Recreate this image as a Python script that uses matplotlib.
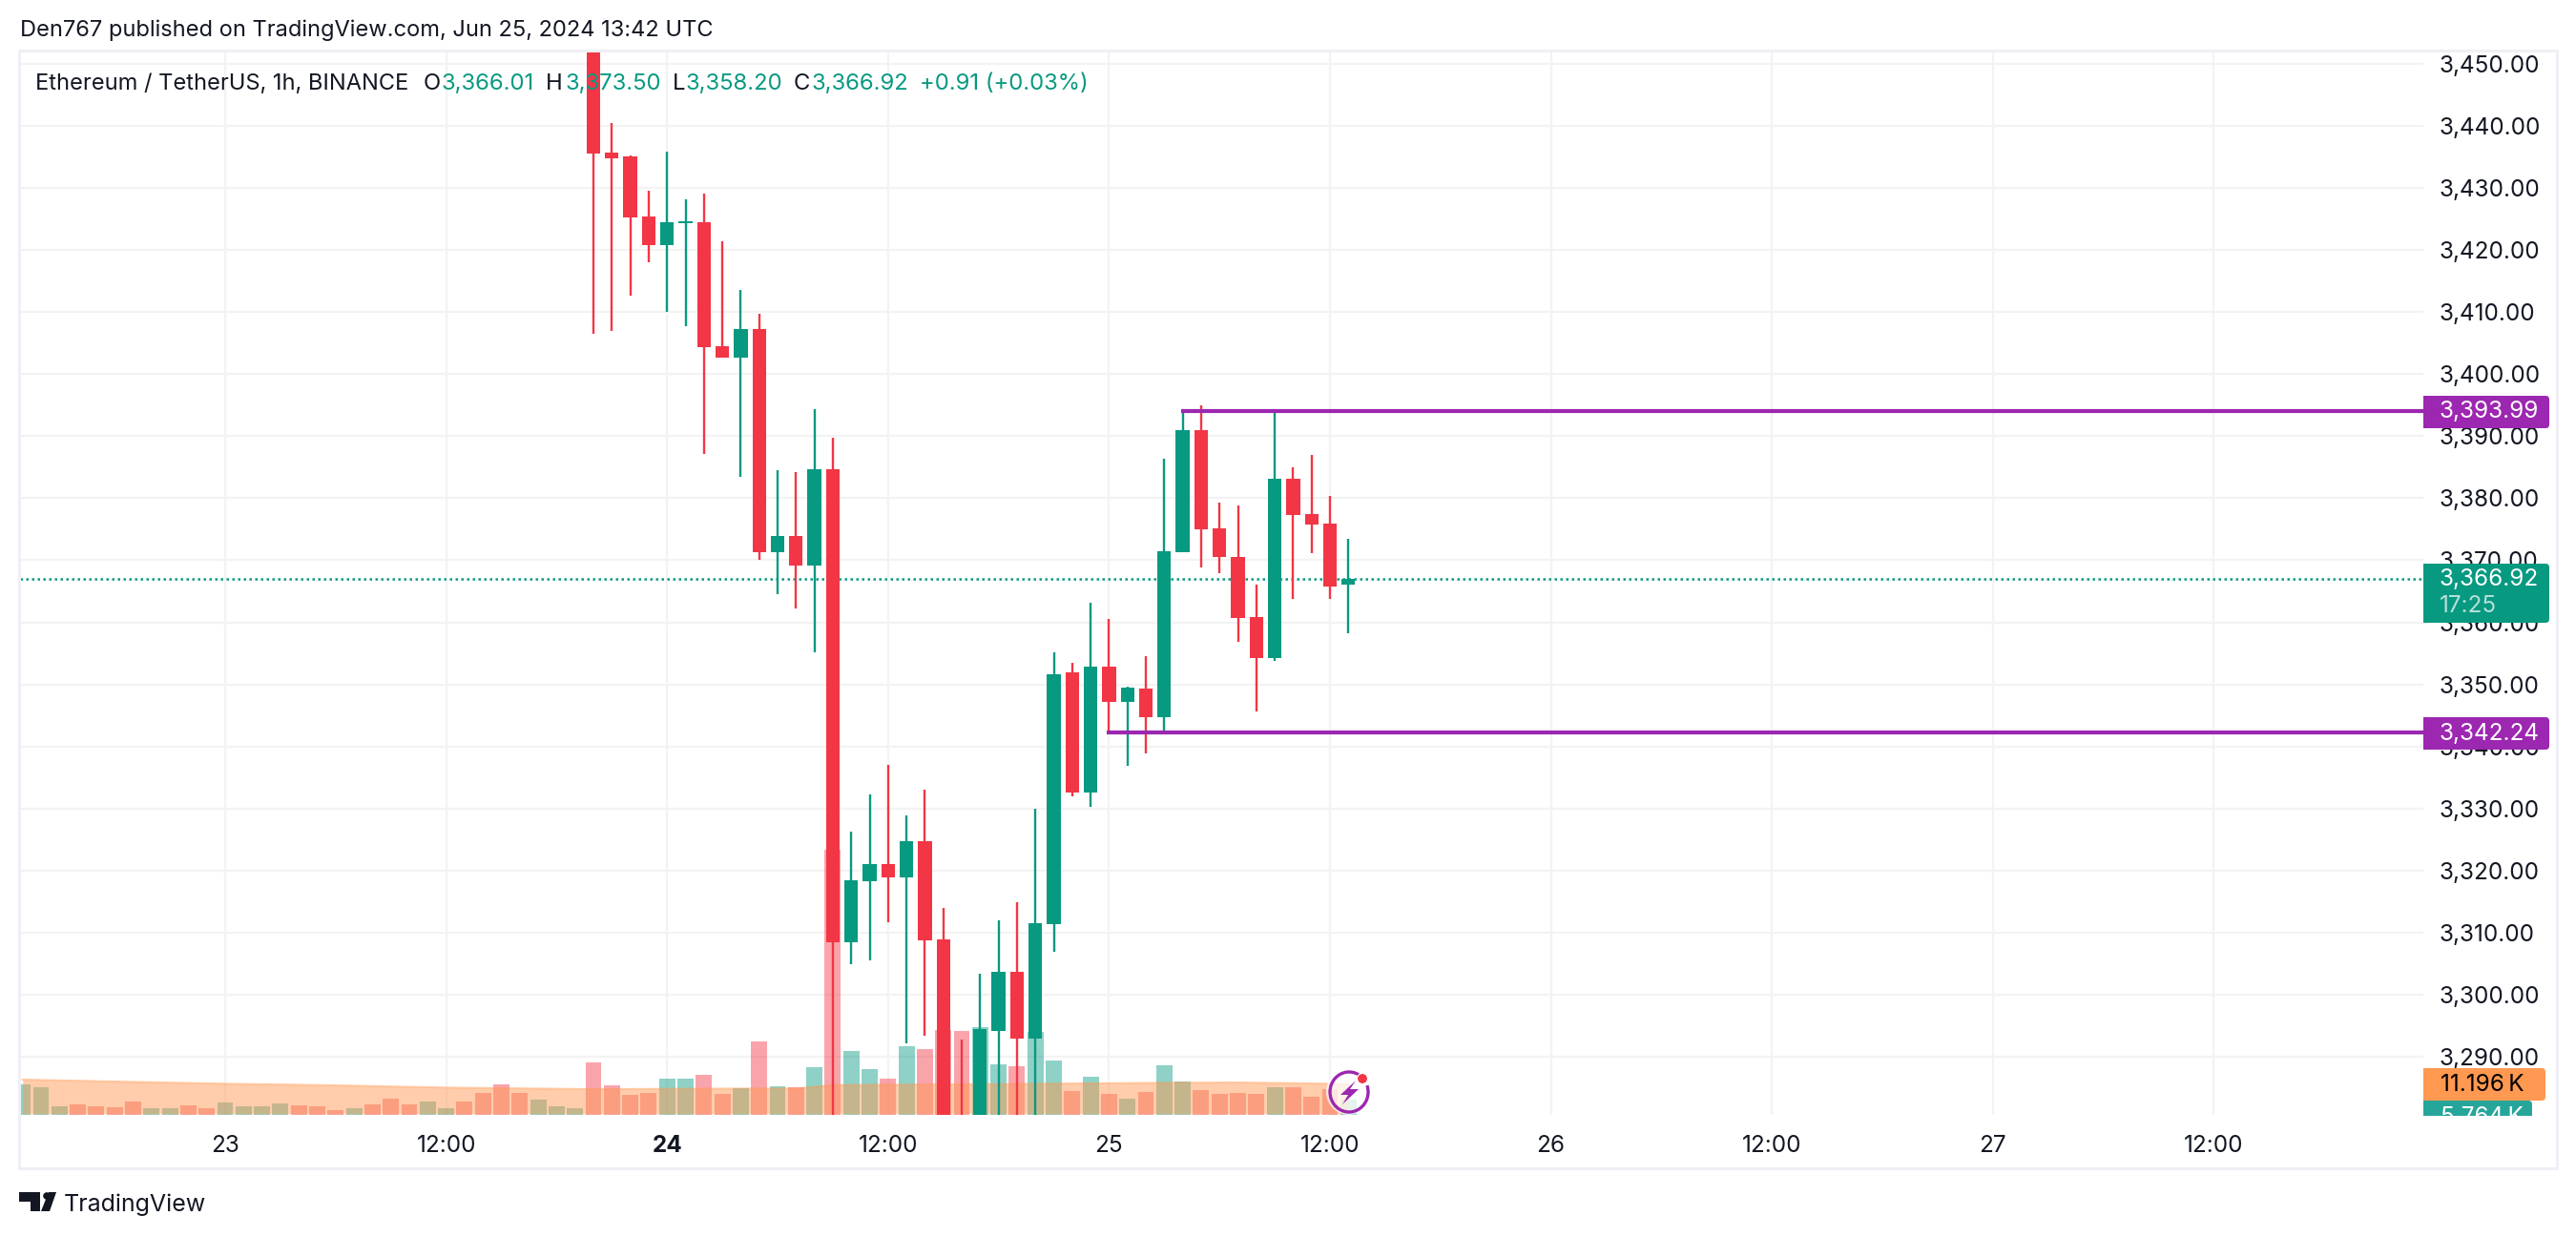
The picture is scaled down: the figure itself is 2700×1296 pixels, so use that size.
import matplotlib
matplotlib.use('Agg')
import matplotlib.pyplot as plt
from matplotlib.patches import Rectangle, FancyBboxPatch, Polygon, Circle, Arc

W, H = 2700, 1296
PANE_L, PANE_R, PANE_T, PANE_B = 21, 2540, 55, 1169

GREEN = '#089981'
RED = '#F23645'
PURPLE = '#9C27B0'
ORANGE = '#FF9850'
DARK = '#131722'
GRID = '#F3F3F4'
FRAME = '#EFEFF5'

plt.rcParams['font.family'] = ['Inter', 'DejaVu Sans']

# hours since Jun 23 00:00
candle_hours = list(range(20, 62))
opens = [3456, 3435.7, 3435.1, 3425.4, 3420.8, 3424.3, 3424.5, 3404.5, 3402.6, 3407.2,
         3371.3, 3373.9, 3369.1, 3384.6, 3308.5, 3318.3, 3321.0, 3318.9, 3324.8, 3308.9,
         3274.0, 3270.0, 3294.2, 3303.7, 3292.9, 3311.4, 3352.0, 3332.5, 3352.8, 3347.1,
         3349.3, 3344.7, 3371.3, 3390.9, 3375.2, 3370.6, 3360.9, 3354.3, 3383.2, 3377.5,
         3375.9, 3366.01]
highs = [3460, 3440.5, 3435.2, 3429.5, 3435.9, 3428.2, 3429.1, 3421.4, 3413.6, 3409.7,
         3384.5, 3384.2, 3394.4, 3389.8, 3326.2, 3332.3, 3337.0, 3328.9, 3333.0, 3314.0,
         3292.8, 3303.4, 3312.0, 3314.9, 3330.0, 3355.2, 3353.5, 3363.2, 3360.6, 3349.6,
         3354.6, 3386.3, 3394.0, 3394.9, 3379.3, 3378.9, 3366.1, 3394.3, 3385.0, 3387.0,
         3380.3, 3373.50]
lows = [3406.5, 3407.0, 3412.6, 3418.0, 3410.0, 3407.7, 3387.1, 3402.6, 3383.4, 3370.0,
        3364.5, 3362.2, 3355.2, 3275.0, 3304.9, 3305.5, 3311.7, 3292.2, 3293.4, 3265.0,
        3265.0, 3265.0, 3275.0, 3275.0, 3275.0, 3306.9, 3332.0, 3330.2, 3342.2, 3336.8,
        3338.9, 3342.1, 3371.3, 3368.9, 3367.9, 3356.9, 3345.6, 3353.8, 3363.8, 3371.2,
        3363.8, 3358.20]
closes = [3435.6, 3434.8, 3425.3, 3420.8, 3424.4, 3424.6, 3404.4, 3402.6, 3407.2, 3371.3,
          3373.9, 3369.1, 3384.6, 3308.5, 3318.5, 3321.0, 3318.9, 3324.8, 3308.8, 3270.0,
          3270.0, 3294.4, 3303.7, 3292.9, 3311.5, 3351.6, 3332.5, 3352.8, 3347.1, 3349.4,
          3344.7, 3371.5, 3390.9, 3375.0, 3370.6, 3360.7, 3354.3, 3383.2, 3377.3, 3375.8,
          3365.8, 3366.92]

volume_hours = list(range(-11, 62))
volumes = [11.07, 10.02, 3.03, 3.73, 3.03, 2.68, 4.78, 2.33, 2.33, 3.38, 2.33, 4.43, 3.03, 3.03, 4.08,
           3.38, 3.03, 1.63, 2.33, 3.73, 5.83, 3.73, 4.78, 2.33, 4.78, 7.93, 11.07, 7.93, 5.48, 3.03,
           2.33, 19.11, 10.72, 7.23, 7.93, 13.17, 13.17, 14.57, 7.58, 9.67, 26.81, 10.37, 10.02, 17.37,
           97.2, 23.31, 16.67, 13.17, 25.06, 24.01, 31.0, 30.65, 32.05, 18.41, 17.72, 30.3, 19.81, 8.62,
           13.87, 7.58, 5.83, 8.28, 18.07, 12.12, 8.97, 7.58, 7.93, 7.58, 10.02, 10.02, 6.53, 9.32, 5.764]
volume_up = [1, 1, 1, 0, 0, 0, 0, 1, 1, 0, 0, 1, 1, 1, 1,
             0, 0, 0, 1, 0, 0, 0, 1, 1, 0, 0, 0, 0, 1, 1,
             1, 0, 0, 0, 0, 1, 1, 0, 0, 1, 0, 1, 0, 1,
             0, 1, 1, 0, 1, 0, 0, 0, 1, 1, 0, 1, 1, 0,
             1, 0, 1, 0, 1, 1, 0, 0, 0, 0, 1, 0, 0, 0, 1]

ma_hours = [-11, -5, 0, 5, 12, 20, 28, 31, 33, 40, 51, 55, 60, 61]
ma_values = [12.94, 12.1, 11.42, 10.96, 10.02, 9.44, 9.67, 9.67, 10.96, 11.19, 11.77, 11.89, 11.42, 11.196]

price_ticks = list(range(3290, 3451, 10))
time_ticks = [0, 12, 24, 36, 48, 60, 72, 84, 96, 108]
time_labels = ['23', '12:00', '24', '12:00', '25', '12:00', '26', '12:00', '27', '12:00']
level_high = 3393.99
level_low = 3342.24
last_price = 3366.92

# pixel <-> data scales of the pane
PX_PER_HOUR = 19.3
PX_PER_UNIT = 6.507
PX_PER_K = 2.86
xlim = ((PANE_L - 236) / PX_PER_HOUR, (PANE_R - 236) / PX_PER_HOUR)
ylim = (3390 - (PANE_B - 457.3) / PX_PER_UNIT, 3390 + (457.3 - PANE_T) / PX_PER_UNIT)

fig = plt.figure(figsize=(27, 12.96), dpi=100, facecolor='white')
rect = [PANE_L / W, 1 - PANE_B / H, (PANE_R - PANE_L) / W, (PANE_B - PANE_T) / H]

# grid and tick labels at the back
ax_grid = fig.add_axes(rect, zorder=0)
ax_grid.set_xlim(*xlim)
ax_grid.set_ylim(*ylim)
ax_grid.set_yticks(price_ticks)
ax_grid.set_yticklabels(['{:,.2f}'.format(p) for p in price_ticks])
ax_grid.yaxis.tick_right()
ax_grid.set_xticks(time_ticks)
ax_grid.set_xticklabels(time_labels)
ax_grid.grid(True, color=GRID, lw=1.6)
ax_grid.set_axisbelow(True)
ax_grid.tick_params(axis='y', length=0, pad=12, labelsize=17.5, labelcolor=DARK)
ax_grid.tick_params(axis='x', length=0, pad=15, labelsize=17.5, labelcolor=DARK)
ax_grid.get_xticklabels()[2].set_fontweight('bold')
for lab in ax_grid.get_yticklabels():
    lab.set_verticalalignment('center_baseline')
for s in ax_grid.spines.values():
    s.set_visible(False)

# volume
ax_vol = fig.add_axes(rect, zorder=1)
ax_vol.patch.set_visible(False)
ax_vol.set_xlim(*xlim)
ax_vol.set_ylim(0, (PANE_B - PANE_T) / PX_PER_K)
ax_vol.axis('off')
vol_colors = [GREEN if u else RED for u in volume_up]
ax_vol.bar(volume_hours, volumes, width=0.88, color=vol_colors, alpha=0.45, lw=0)
ax_vol.fill_between(ma_hours, 0.4, ma_values, color=ORANGE, alpha=0.48, lw=0)
ax_vol.plot(ma_hours, ma_values, color=ORANGE, lw=1.4, alpha=0.5)

# candles
ax = fig.add_axes(rect, zorder=2)
ax.patch.set_visible(False)
ax.set_xlim(*xlim)
ax.set_ylim(*ylim)
ax.axis('off')
ax.axhline(last_price, color=GREEN, lw=1.8, ls=(0, (1, 1.4)), zorder=1)
ax.hlines(level_high, 51.9, xlim[1], color=PURPLE, lw=3, zorder=4)
ax.hlines(level_low, 47.9, xlim[1], color=PURPLE, lw=3, zorder=4)
candle_colors = [GREEN if c >= o else RED for o, c in zip(opens, closes)]
ax.vlines(candle_hours, lows, highs, colors=candle_colors, lw=1.7, zorder=2)
ax.bar(candle_hours, [abs(c - o) for o, c in zip(opens, closes)],
       bottom=[min(o, c) for o, c in zip(opens, closes)],
       width=0.74, color=candle_colors, lw=0, zorder=3)

# everything in pixel coordinates on top
top = fig.add_axes([0, 0, 1, 1], zorder=3)
top.patch.set_visible(False)
top.set_xlim(0, W)
top.set_ylim(H, 0)
top.axis('off')


def label(x, y, s, color=DARK, size=17.5, ha='left', **kw):
    return top.text(x, y, s, color=color, fontsize=size, ha=ha, va='center', **kw)


def pill(x0, x1, y0, y1, color):
    r = 4
    top.add_patch(FancyBboxPatch((x0 + r, y0 + r), x1 - x0 - 2 * r, y1 - y0 - 2 * r,
                                 boxstyle='round,pad=%d,rounding_size=%d' % (r, r),
                                 fc=color, ec='none'))
    top.add_patch(Rectangle((x0, y0), 10, y1 - y0, fc=color, ec='none'))


top.add_patch(Rectangle((19.5, 53), 2680 - 19.5, 1225 - 53, fill=False, ec=FRAME, lw=2.2))

label(21, 32, 'Den767 published on TradingView.com, Jun 25, 2024 13:42 UTC', size=17)
label(37, 88, 'Ethereum / TetherUS, 1h, BINANCE', size=17)
for x, s, col in [(444, 'O', DARK), (463, '3,366.01', GREEN), (572, 'H', DARK), (593, '3,373.50', GREEN),
                  (705, 'L', DARK), (718, '3,358.20', GREEN), (832, 'C', DARK), (851, '3,366.92', GREEN),
                  (964, '+0.91 (+0.03%)', GREEN)]:
    label(x, 88, s, color=col, size=17.2)

# price scale labels
pill(2540, 2672, 415, 449, PURPLE)
label(2557, 432, '{:,.2f}'.format(level_high), color='white')
pill(2540, 2672, 591, 653, GREEN)
label(2557, 607, '{:,.2f}'.format(last_price), color='white')
label(2557, 635, '17:25', color='#B5E0D9')
pill(2540, 2672, 752, 786, PURPLE)
label(2557, 769, '{:,.2f}'.format(level_low), color='white')
pill(2540, 2668, 1120, 1154, ORANGE)
label(2558, 1137, '11.196\u2009K', color='black')
clip = Rectangle((2530, 1154), 140, 16, transform=top.transData)
pill(2540, 2654, 1154, 1190, '#26A69A')
top.patches[-1].set_clip_path(clip)
top.patches[-2].set_clip_path(clip)
label(2558, 1172, '5.764\u2009K', color='white').set_clip_path(clip)
top.add_patch(Rectangle((2536, 1170), 140, 24, fc='white', ec='none'))

# lightning badge
top.add_patch(Circle((1414, 1145), 24, fc='white', ec='none', alpha=0.75))
top.add_patch(Arc((1414, 1145), 40, 42, theta1=-20, theta2=300, ec=PURPLE, lw=2.4))
top.add_patch(Polygon([(1421, 1133), (1405, 1148), (1413, 1148), (1407, 1158), (1424, 1142), (1415, 1142)],
                      fc=PURPLE, ec='none'))
top.add_patch(Circle((1428, 1131), 5.5, fc=RED, ec='white', lw=0.8))

# logo
top.add_patch(Polygon([(20, 1250), (42, 1250), (42, 1270), (32, 1270), (32, 1260), (20, 1260)], fc=DARK, ec='none'))
top.add_patch(Circle((49, 1254), 3.8, fc=DARK, ec='none'))
top.add_patch(Polygon([(43, 1270), (51, 1250), (59, 1250), (52, 1270)], fc=DARK, ec='none'))
label(67, 1263, 'TradingView', size=18)

fig.savefig('out.png', dpi=100)
